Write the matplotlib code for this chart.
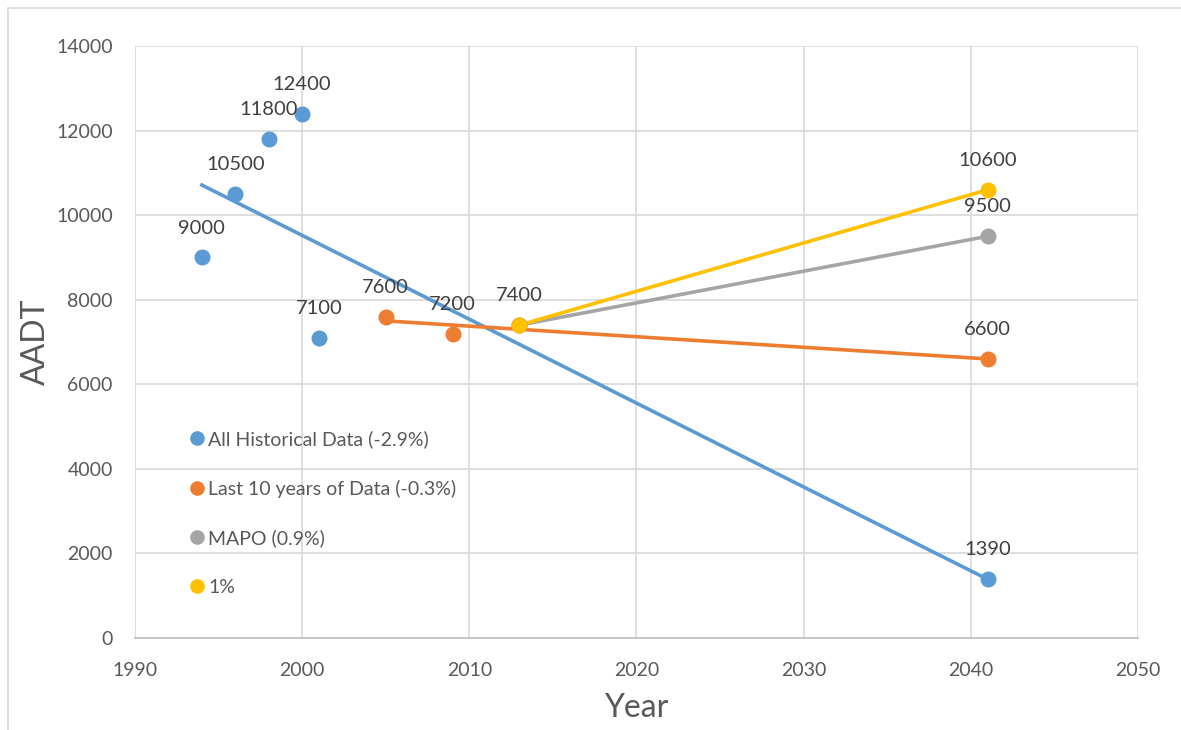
import matplotlib
matplotlib.use("Agg")
import matplotlib.pyplot as plt
import matplotlib.patches as patches
from matplotlib.lines import Line2D
import numpy as np

plt.rcParams['font.family'] = ['Lato', 'DejaVu Sans']

# Observed AADT counts
hist_years = [1994, 1996, 1998, 2000, 2001]
hist_aadt = [9000, 10500, 11800, 12400, 7100]
recent_years = [2005, 2009, 2013]
recent_aadt = [7600, 7200, 7400]

# 2041 projections for each growth scenario
proj_year = 2041
base_year = 2013
base_aadt = 7400
proj_hist = 1390
proj_recent = 6600
proj_mapo = 9500
proj_1pct = 10600

labels = ["All Historical Data (-2.9%)", "Last 10 years of Data (-0.3%)",
          "MAPO (0.9%)", "1%"]
colors = ["#5B9BD5", "#ED7D31", "#A5A5A5", "#FFC000"]

fig = plt.figure(figsize=(11.81, 7.30), dpi=100)
ax = fig.add_axes([0.1143, 0.126, 0.8493, 0.811])

# linear trends through the counts
all_years = hist_years + recent_years
all_aadt = hist_aadt + recent_aadt
c_all = np.polyfit(all_years, all_aadt, 1)
c_rec = np.polyfit(recent_years, recent_aadt, 1)
x_all = np.array([all_years[0], proj_year])
x_rec = np.array([recent_years[0], proj_year])

lw = 2.6
ax.plot(x_all, np.polyval(c_all, x_all), color=colors[0], lw=lw, zorder=2)
ax.plot(x_rec, np.polyval(c_rec, x_rec), color=colors[1], lw=lw, zorder=3)
ax.plot([base_year, proj_year], [base_aadt, proj_mapo], color=colors[2], lw=lw, zorder=4)
ax.plot([base_year, proj_year], [base_aadt, proj_1pct], color=colors[3], lw=lw, zorder=5)

ms = 10.5
ax.plot(hist_years + [proj_year], hist_aadt + [proj_hist], 'o', color=colors[0], ms=ms, zorder=6)
ax.plot(recent_years + [proj_year], recent_aadt + [proj_recent], 'o', color=colors[1], ms=ms, zorder=7)
ax.plot([base_year, proj_year], [base_aadt, proj_mapo], 'o', color=colors[2], ms=ms, zorder=8)
ax.plot([base_year, proj_year], [base_aadt, proj_1pct], 'o', color=colors[3], ms=ms, zorder=9)

# value labels above points
pts = list(zip(hist_years, hist_aadt)) + list(zip(recent_years[:2], recent_aadt[:2])) + [
    (base_year, base_aadt), (proj_year, proj_hist), (proj_year, proj_recent),
    (proj_year, proj_mapo), (proj_year, proj_1pct)]
for x, y in pts:
    ax.annotate(f"{y}", (x, y), xytext=(0, 15), textcoords='offset points',
                ha='center', va='bottom', fontsize=14.5, color='#404040', zorder=10)

ax.set_xlim(1990, 2050)
ax.set_ylim(0, 14000)
ax.set_xticks(np.arange(1990, 2051, 10))
ax.set_yticks(np.arange(0, 14001, 2000))
ax.grid(True, color='#D9D9D9', lw=1.2)
ax.set_axisbelow(True)
for s in ['top', 'right', 'left']:
    ax.spines[s].set_visible(False)
ax.spines['bottom'].set_color('#BFBFBF')
ax.spines['bottom'].set_linewidth(1.2)
ax.tick_params(length=0, labelsize=14, colors='#595959', pad=17)
ax.tick_params(axis='y', pad=16)

ax.set_xlabel("Year", fontsize=23, color='#595959', labelpad=10)
ax.set_ylabel("AADT", fontsize=23, color='#595959', labelpad=4)

handles = [Line2D([], [], ls='none', marker='o', ms=9.5, color=c) for c in colors]
ax.legend(handles, labels, loc='upper left', bbox_to_anchor=(0.042, 0.364),
          frameon=False, fontsize=14, labelspacing=1.62, handletextpad=0.0,
          handlelength=1.2, labelcolor='#595959', borderaxespad=0)

# outer chart frame
fig.patches.append(patches.Rectangle((8 / 1181, -0.05), 1.2, (730 - 8) / 730 + 0.05,
                                     transform=fig.transFigure, fill=False,
                                     edgecolor='#D9D9D9', lw=1.2))

fig.savefig("out.png", dpi=100, facecolor='white')
